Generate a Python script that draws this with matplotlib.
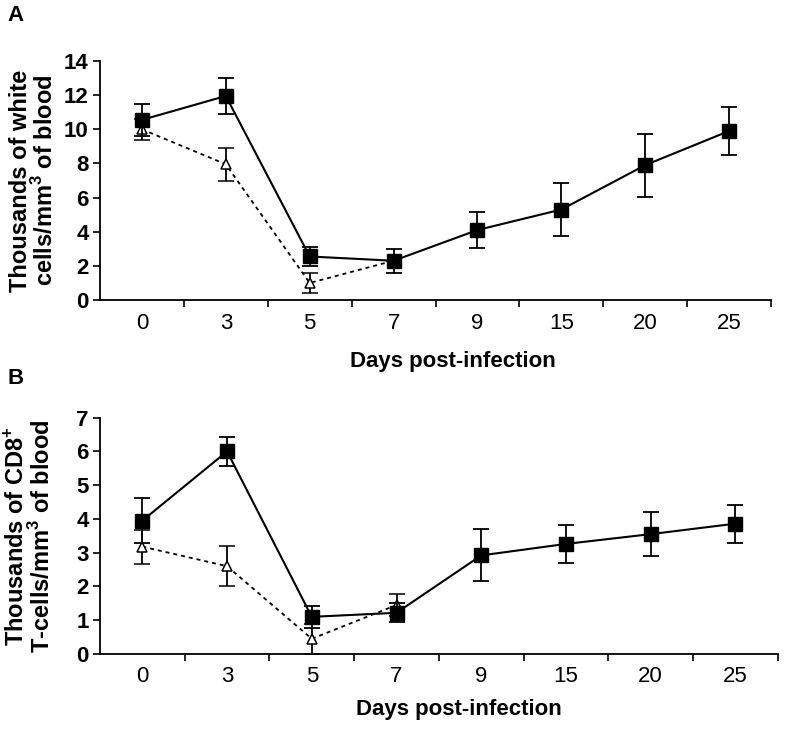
import matplotlib
matplotlib.use("Agg")
import matplotlib.pyplot as plt

plt.rcParams['font.family'] = ['Liberation Sans', 'DejaVu Sans']
plt.rcParams['mathtext.fontset'] = 'custom'
plt.rcParams['mathtext.rm'] = 'Liberation Sans'
plt.rcParams['mathtext.bf'] = 'Liberation Sans:bold'

days = ['0', '3', '5', '7', '9', '15', '20', '25']

# panel A - white cells
wbc_sq = [10.55, 11.95, 2.55, 2.3, 4.1, 5.3, 7.9, 9.9]
wbc_sq_err = [0.95, 1.05, 0.55, 0.7, 1.07, 1.54, 1.85, 1.4]
wbc_tri = [10.0, 7.95, 1.0, 2.3]
wbc_tri_err = [0.6, 0.95, 0.6, 0.0]

# panel B - CD8+ T-cells
cd8_sq = [3.95, 6.0, 1.1, 1.22, 2.92, 3.26, 3.55, 3.86]
cd8_sq_err = [0.67, 0.42, 0.33, 0.28, 0.77, 0.57, 0.66, 0.56]
cd8_tri = [3.18, 2.6, 0.45, 1.45]
cd8_tri_err = [0.5, 0.6, 0.45, 0.33]


def panel(ax, sq, sq_err, tri, tri_err, ymax, ystep, ylabel, lab_x):
    xs = [i + 0.5 for i in range(len(sq))]
    xt = xs[:len(tri)]
    ax.errorbar(xt, tri, yerr=tri_err, color='black', ls=(0, (2.2, 2.2)), lw=1.3,
                marker='^', ms=7, mfc='white', mec='black', mew=1.1,
                ecolor='black', elinewidth=1.3, capsize=5.5, capthick=1.3, zorder=2)
    ax.errorbar(xs, sq, yerr=sq_err, color='black', ls='-', lw=1.5,
                marker='s', ms=9.5, mfc='black', mec='black',
                ecolor='black', elinewidth=1.3, capsize=5.5, capthick=1.3, zorder=3)
    ax.set_xlim(0, len(sq))
    ax.set_ylim(0, ymax)
    ax.set_yticks(range(0, ymax + 1, ystep))
    ax.set_yticklabels([str(v) for v in range(0, ymax + 1, ystep)],
                       fontsize=16, fontweight='bold')
    ax.set_xticks(range(1, len(sq) + 1))
    ax.set_xticklabels([])
    ax.set_xticks(xs, minor=True)
    ax.set_xticklabels(days, minor=True, fontsize=16)
    ax.tick_params(axis='x', which='major', direction='out', length=5, width=1.2)
    ax.tick_params(axis='x', which='minor', length=0, pad=9)
    ax.tick_params(axis='y', direction='out', length=5, width=1.2, pad=3)
    for s in ['top', 'right']:
        ax.spines[s].set_visible(False)
    for s in ['left', 'bottom']:
        ax.spines[s].set_linewidth(1.3)
    ax.set_ylabel(ylabel, fontsize=17, fontweight='bold', linespacing=1.0)
    ax.yaxis.set_label_coords(lab_x, 0.5)
    ax.set_xlabel('Days post-infection', fontsize=16, fontweight='bold')


fig = plt.figure(figsize=(7.86, 7.33), dpi=100)
axA = fig.add_axes([0.1272, 0.5907, 0.8538, 0.3261])
axB = fig.add_axes([0.1272, 0.1078, 0.8623, 0.3224])

panel(axA, wbc_sq, wbc_sq_err, wbc_tri, wbc_tri_err, 14, 2,
      'Thousands of white\ncells/mm$^\\mathbf{3}$ of blood', -0.062)
panel(axB, cd8_sq, cd8_sq_err, cd8_tri, cd8_tri_err, 7, 1,
      'Thousands of CD8$^\\mathbf{+}$\nT-cells/mm$^\\mathbf{3}$ of blood', -0.067)

axA.xaxis.set_label_coords(0.526, -0.213)
axB.xaxis.set_label_coords(0.529, -0.19)

fig.text(0.01, 0.979, 'A', fontsize=16, fontweight='bold', va='center', ha='left')
fig.text(0.01, 0.484, 'B', fontsize=16, fontweight='bold', va='center', ha='left')

fig.savefig('out.png', dpi=100)
